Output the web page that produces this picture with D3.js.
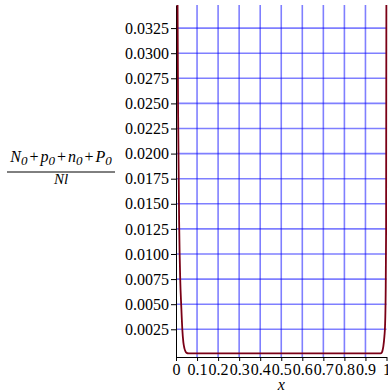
<!DOCTYPE html>
<html>
<head>
<meta charset="utf-8">
<script src="https://cdn.jsdelivr.net/npm/d3@7"></script>
</head>
<body style="margin:0;background:#fff">
<svg id="chart" style="display:block"></svg>
<script>
// values
const xs = [0, 0.005, 0.01, 0.015, 0.02, 0.025, 0.03, 0.035, 0.04, 0.045, 0.05, 0.06, 0.1, 0.2, 0.3, 0.4, 0.5, 0.6, 0.7, 0.8, 0.9, 0.95, 0.97, 0.975, 0.98, 0.985, 0.99, 0.993, 0.996, 0.998, 1]
const ys = [0.08, 0.045, 0.024, 0.013, 0.0075, 0.0048, 0.0025, 0.0012, 0.0006, 0.0003, 0.00015, 0.0001, 0.0001, 0.0001, 0.0001, 0.0001, 0.0001, 0.0001, 0.0001, 0.0001, 0.0001, 0.0001, 0.0001, 0.00012, 0.0003, 0.0008, 0.0018, 0.0028, 0.006, 0.012, 0.045]
const yTicks = [0.0025, 0.005, 0.0075, 0.01, 0.0125, 0.015, 0.0175, 0.02, 0.0225, 0.025, 0.0275, 0.03, 0.0325]
const xTicks = [0, 0.1, 0.2, 0.3, 0.4, 0.5, 0.6, 0.7, 0.8, 0.9, 1]
const xTickLabels = ['0', '0.1', '0.2', '0.3', '0.4', '0.5', '0.6', '0.7', '0.8', '0.9', '1']

const width = 388, height = 392
const m = {left: 176, right: 386.5, top: 5, bottom: 357}
const serif = 'Liberation Serif'

const svg = d3.select('#chart').attr('width', width).attr('height', height)

const x = d3.scaleLinear().domain([0, 1]).range([m.left, m.right])
const y = d3.scaleLinear().domain([-0.00026, 0.0348]).range([m.bottom, m.top])

// grid
const grid = svg.append('g').attr('stroke', '#0000ff').attr('stroke-opacity', 0.5).attr('stroke-width', 1.6)
grid.selectAll('.h').data(yTicks).enter().append('line')
    .attr('x1', m.left).attr('x2', m.right)
    .attr('y1', d => y(d)).attr('y2', d => y(d))
grid.selectAll('.v').data(xTicks.slice(1, -1)).enter().append('line')
    .attr('y1', m.top).attr('y2', m.bottom)
    .attr('x1', d => x(d)).attr('x2', d => x(d))

// axes
svg.append('g').attr('class', 'axis')
    .attr('transform', 'translate(' + m.left + ',0)')
    .call(d3.axisLeft(y).tickValues(yTicks).tickFormat(d3.format('.4f')).tickSize(5).tickSizeOuter(0).tickPadding(2))

svg.append('g').attr('class', 'axis')
    .attr('transform', 'translate(0,' + m.bottom + ')')
    .call(d3.axisBottom(x).tickValues(xTicks).tickFormat((d, i) => xTickLabels[i]).tickSize(4).tickSizeOuter(0).tickPadding(3))

svg.selectAll('.axis').attr('font-family', serif).attr('font-size', 16)
svg.selectAll('.axis text').attr('fill', '#000')

// curve
svg.append('clipPath').attr('id', 'clip').append('rect')
    .attr('x', m.left).attr('y', m.top).attr('width', m.right - m.left + 2).attr('height', m.bottom - m.top)

const line = d3.line().x(d => x(d[0])).y(d => y(d[1])).curve(d3.curveMonotoneX)
svg.append('path')
    .datum(xs.map((v, i) => [v, ys[i]]))
    .attr('clip-path', 'url(#clip)')
    .attr('fill', 'none')
    .attr('stroke', '#7a0016')
    .attr('stroke-width', 1.8)
    .attr('d', line)

// x label
svg.append('text')
    .attr('x', (m.left + m.right) / 2).attr('y', 390)
    .attr('text-anchor', 'middle')
    .attr('font-family', serif).attr('font-style', 'italic').attr('font-size', 16)
    .text('x')

// y label as fraction
const lab = svg.append('g').attr('font-family', serif).attr('font-style', 'italic').attr('font-size', 16)
const num = lab.append('text').attr('x', 61).attr('y', 162).attr('text-anchor', 'middle')
const parts = [['N', '0'], ['p', '0'], ['n', '0'], ['P', '0']]
parts.forEach((p, i) => {
    if (i > 0) num.append('tspan').attr('font-style', 'normal').attr('dy', -3).attr('dx', 2).text('+')
    num.append('tspan').attr('dx', i > 0 ? 2 : 0).text(p[0])
    num.append('tspan').attr('dy', 3).attr('font-size', 13).text(p[1])
})
lab.append('line').attr('x1', 7).attr('x2', 115).attr('y1', 172).attr('y2', 172)
    .attr('stroke', '#000').attr('stroke-width', 1)
lab.append('text').attr('x', 61).attr('y', 184).attr('text-anchor', 'middle').attr('font-size', 15).text('Nl')
</script>
</body>
</html>
